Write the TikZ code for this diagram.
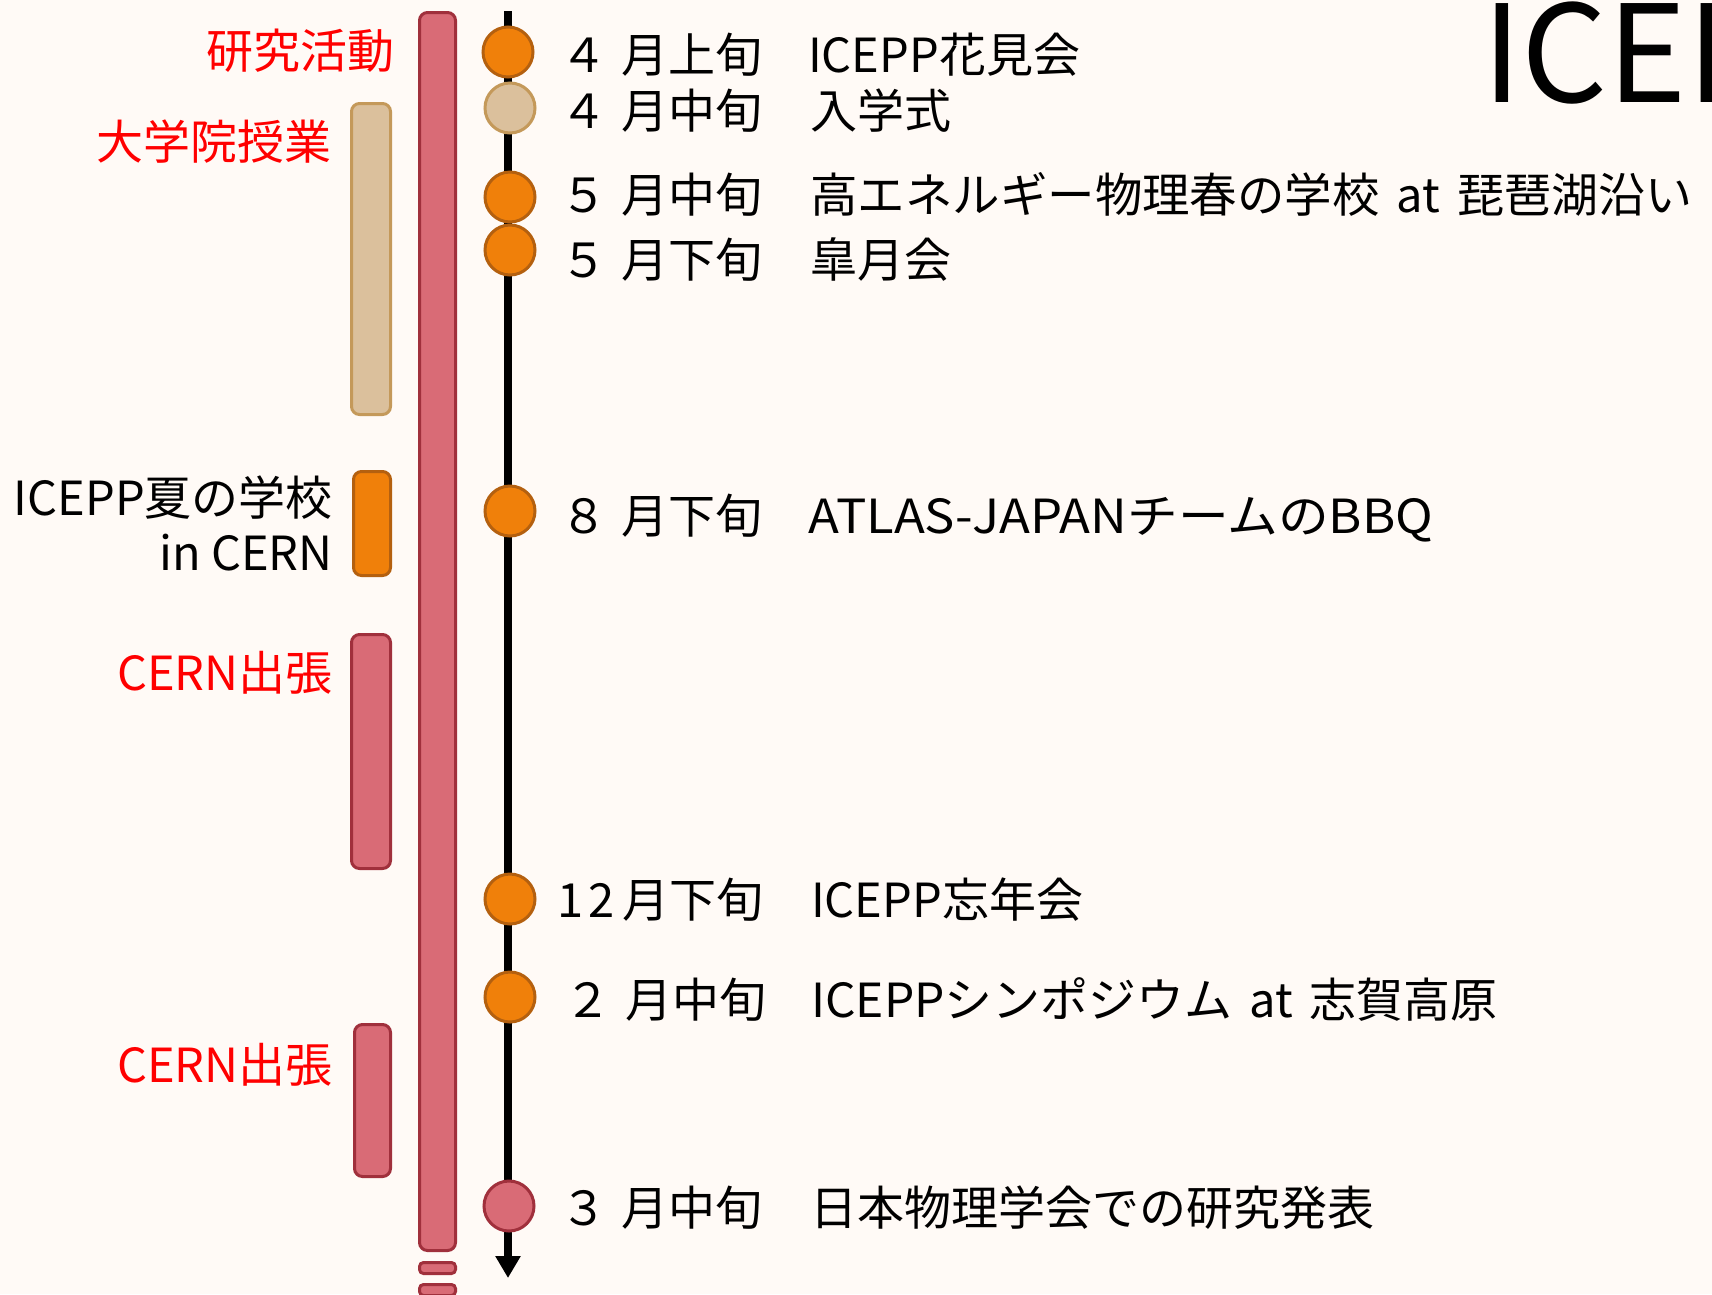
\documentclass[tikz,border=0pt]{standalone}
\usepackage{fontspec}
\setmainfont{Noto Sans CJK JP}
\usetikzlibrary{arrows.meta}
\definecolor{bgcol}{HTML}{FFFAF6}
\definecolor{barred}{HTML}{D96B76}
\definecolor{barredline}{HTML}{A0303C}
\definecolor{bartan}{HTML}{DBC09C}
\definecolor{bartanline}{HTML}{C4995A}
\definecolor{barorange}{HTML}{F0800A}
\definecolor{barorangeline}{HTML}{B4600F}
\definecolor{labred}{HTML}{FF0000}
\newcommand{\dsp}{\hspace{14pt}}
\newcommand{\wsp}{\hspace{17pt}}
\tikzset{
  bar/.style={draw, rounded corners=8pt, line width=3pt, inner sep=0pt},
  redbar/.style={bar, fill=barred, draw=barredline},
  tanbar/.style={bar, fill=bartan, draw=bartanline},
  orangebar/.style={bar, fill=barorange, draw=barorangeline},
  evt/.style={circle, line width=3pt, minimum size=50pt, inner sep=0pt},
  evtorange/.style={evt, fill=barorange, draw=barorangeline},
  evttan/.style={evt, fill=bartan, draw=bartanline},
  evtred/.style={evt, fill=barred, draw=barredline},
  txt/.style={inner sep=0pt, font=\fontsize{47}{56}\selectfont},
  datetxt/.style={txt, anchor=base west},
  evttxt/.style={txt, anchor=base west},
  sidetxt/.style={txt, anchor=base east},
}
\begin{document}
\begin{tikzpicture}[x=1pt,y=-1pt]
\useasboundingbox (0,0) rectangle (1712,1294);
\fill[bgcol] (0,0) rectangle (1712,1294);
\clip (0,0) rectangle (1712,1294);

% title (cut off at the right edge, as in the reference)
\node[inner sep=0pt, anchor=base west, font=\fontsize{135}{140}\selectfont] (title) at (1482,102) {ICEPP};

% bars
\node[redbar, minimum width=36pt, minimum height=1238pt] (research) at (437.5,631.5) {};
\node[redbar, rounded corners=4pt, minimum width=36pt, minimum height=11pt] (researchA) at (437.5,1268) {};
\node[redbar, rounded corners=4pt, minimum width=36pt, minimum height=11pt] (researchB) at (437.5,1290) {};
\node[tanbar, minimum width=39pt, minimum height=311pt] (lecture) at (371,259) {};
\node[orangebar, minimum width=37pt, minimum height=104pt] (summer) at (372,523.5) {};
\node[redbar, minimum width=39pt, minimum height=234pt] (cernA) at (371,751.5) {};
\node[redbar, minimum width=36pt, minimum height=152pt] (cernB) at (372.5,1100.5) {};

% side labels
\node[sidetxt, text=labred] (researchlab) at (395,68) {研究活動};
\node[sidetxt, text=labred] (lecturelab) at (332,159) {大学院授業};
\node[sidetxt] (summerlabA) at (333,515) {ICEPP夏の学校};
\node[sidetxt] (summerlabB) at (333,570) {in CERN};
\node[sidetxt, text=labred] (cernlabA) at (333,690) {CERN出張};
\node[sidetxt, text=labred] (cernlabB) at (333,1082) {CERN出張};

% time axis
\coordinate (axtop) at (508,11);
\coordinate (axbot) at (508,1278);
\draw[line width=8pt, -{Triangle[width=24pt,length=22pt]}] (axtop) -- (axbot);

% events
\node[evtorange] (e1) at (508,52) {};
\node[evttan]    (e2) at (510,108) {};
\node[evtorange] (e3) at (510,197) {};
\node[evtorange] (e4) at (510,250) {};
\node[evtorange] (e5) at (510,511) {};
\node[evtorange] (e6) at (510,899) {};
\node[evtorange] (e7) at (510,997) {};
\node[evtred]    (e8) at (509,1206) {};

% dates
\node[datetxt] (d1) at (560,72) {４\dsp 月上旬};
\node[datetxt] (d2) at (560,128) {４\dsp 月中旬};
\node[datetxt] (d3) at (560,212) {５\dsp 月中旬};
\node[datetxt] (d4) at (560,277) {５\dsp 月下旬};
\node[datetxt] (d5) at (560,533) {８\dsp 月下旬};
\node[datetxt] (d6) at (557,917) {1\kern5pt 2\kern8pt 月下旬};
\node[datetxt] (d7) at (564,1017) {２\dsp 月中旬};
\node[datetxt] (d8) at (560,1225) {３\dsp 月中旬};

% event texts
\node[evttxt] (t1) at (808,72) {ICEPP花見会};
\node[evttxt] (t2) at (810,128) {入学式};
\node[evttxt] (t3) at (810,212) {\scalebox{1.01}[1]{高エネルギー物理春の学校}\wsp at\wsp 琵琶湖沿い};
\node[evttxt] (t4) at (810,277) {皐月会};
\node[evttxt] (t5) at (808,533) {\scalebox{1.08}[1]{ATLAS-JAPANチームのBBQ}};
\node[evttxt] (t6) at (811,917) {ICEPP忘年会};
\node[evttxt] (t7) at (811,1017) {\scalebox{1.02}[1]{ICEPPシンポジウム}\wsp at\wsp 志賀高原};
\node[evttxt] (t8) at (810,1225) {日本物理学会での研究発表};
\end{tikzpicture}
\end{document}
